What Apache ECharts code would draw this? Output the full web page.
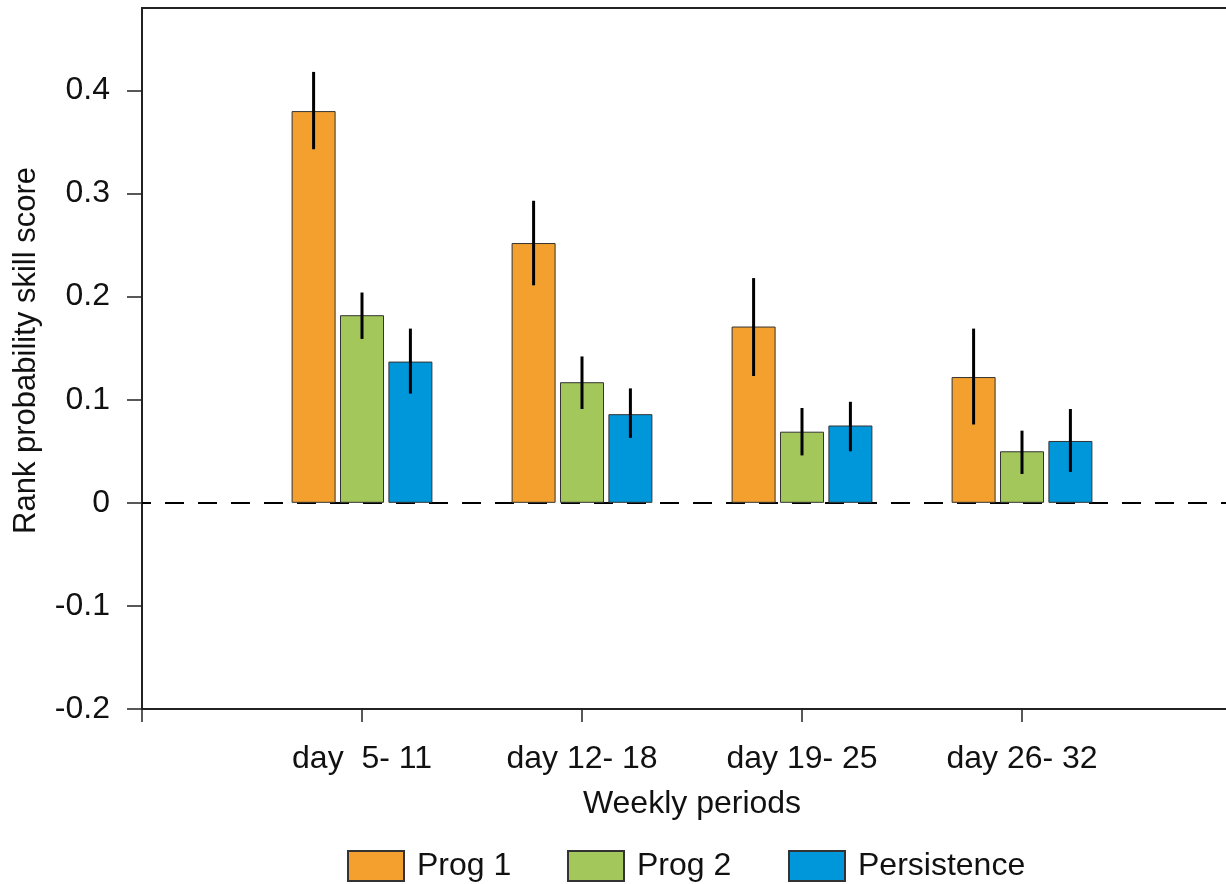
<!DOCTYPE html>
<html>
<head>
<meta charset="utf-8">
<script src="https://cdn.jsdelivr.net/npm/echarts@6/dist/echarts.min.js"></script>
<style>
html,body{margin:0;padding:0;background:#fff;}
#chart{width:1226px;height:884px;}
</style>
</head>
<body>
<div id="chart"></div>
<script>
// Categories (padded with empty slots at both ends of the axis)
var categories = ['', 'day  5- 11', 'day 12- 18', 'day 19- 25', 'day 26- 32', ''];
var seriesNames = ['Prog 1', 'Prog 2', 'Persistence'];
// Bar values
var prog1 = [null, 0.380, 0.252, 0.171, 0.122, null];
var prog2 = [null, 0.182, 0.117, 0.069, 0.050, null];
var persistence = [null, 0.137, 0.086, 0.075, 0.060, null];
// Error bar low / high
var prog1Low  = [0.343, 0.211, 0.123, 0.076];
var prog1High = [0.418, 0.293, 0.218, 0.169];
var prog2Low  = [0.159, 0.091, 0.046, 0.028];
var prog2High = [0.204, 0.142, 0.092, 0.070];
var persLow   = [0.106, 0.063, 0.050, 0.030];
var persHigh  = [0.169, 0.111, 0.098, 0.091];
// Y tick labels
var yTicks = [-0.2, -0.1, 0, 0.1, 0.2, 0.3, 0.4];

var colors = ['#F3A02E', '#A3C75A', '#0096DA'];
var FONT = 'Liberation Sans, Arial, Helvetica, sans-serif';
var BAR_W = 44, BAR_GAP = 4.4;

function errData(low, high) {
  return low.map(function (l, i) { return [i + 1, l, high[i]]; });
}
function errSeries(k, low, high) {
  var offset = (k - 1) * (BAR_W + BAR_GAP);
  return {
    type: 'custom',
    name: seriesNames[k] + ' err',
    z: 5,
    silent: true,
    data: errData(low, high),
    encode: { x: 0, y: [1, 2] },
    renderItem: function (params, api) {
      var p1 = api.coord([api.value(0), api.value(1)]);
      var p2 = api.coord([api.value(0), api.value(2)]);
      return {
        type: 'line',
        shape: { x1: p1[0] + offset, y1: p1[1], x2: p2[0] + offset, y2: p2[1] },
        style: { stroke: '#000', lineWidth: 3 }
      };
    }
  };
}

var barItem = function (c) { return { color: c, borderColor: '#333', borderWidth: 1 }; };

var legendBase = function (name, left) {
  return {
    data: [name], left: left, top: 845, orient: 'horizontal',
    itemWidth: 56, itemHeight: 30, icon: 'rect',
    textStyle: { fontFamily: FONT, fontSize: 32, color: '#111', padding: [0, 0, 0, 8] },
    selectedMode: false
  };
};

var option = {
  animation: false,
  backgroundColor: '#fff',
  textStyle: { fontFamily: FONT },
  grid: {
    left: 142, right: -16, top: 8, bottom: 175,
    outerBoundsMode: 'none',
    show: true, borderColor: '#222', borderWidth: 2, containLabel: false
  },
  legend: [
    legendBase('Prog 1', 342),
    legendBase('Prog 2', 562),
    legendBase('Persistence', 783)
  ],
  xAxis: {
    type: 'category',
    data: categories,
    boundaryGap: false,
    name: 'Weekly periods',
    nameLocation: 'middle',
    nameGap: 79,
    nameTextStyle: { fontFamily: FONT, fontSize: 32, color: '#111' },
    axisLine: { onZero: false, lineStyle: { color: '#222', width: 2 } },
    axisTick: { show: true, interval: 0, length: 13, lineStyle: { color: '#222', width: 1.5 } },
    axisLabel: { interval: 0, margin: 34, fontFamily: FONT, fontSize: 32, color: '#111' },
    splitLine: { show: false }
  },
  yAxis: {
    type: 'value',
    min: -0.2,
    max: 0.48,
    interval: 0.1,
    name: 'Rank probability skill score',
    nameLocation: 'middle',
    nameGap: 100,
    nameTextStyle: { fontFamily: FONT, fontSize: 31, color: '#111', padding: [0, 0, 0, 16] },
    axisLine: { show: true, onZero: false, lineStyle: { color: '#222', width: 2 } },
    axisTick: { show: true, length: 15, customValues: yTicks, lineStyle: { color: '#222', width: 1.5 } },
    axisLabel: {
      margin: 32, fontFamily: FONT, fontSize: 32, color: '#111', customValues: yTicks,
      formatter: function (v) { return Math.abs(v) < 1e-9 ? '0' : v.toFixed(1); }
    },
    splitLine: { show: false }
  },
  series: [
    {
      type: 'bar', name: 'Prog 1', data: prog1, barWidth: BAR_W, barGap: '10%',
      itemStyle: barItem(colors[0]),
      markLine: {
        silent: true, symbol: 'none', label: { show: false }, z: 1,
        lineStyle: { color: '#000', width: 2, type: [19, 14], dashOffset: 10 },
        data: [{ yAxis: 0 }]
      }
    },
    { type: 'bar', name: 'Prog 2', data: prog2, barWidth: BAR_W, barGap: '10%', itemStyle: barItem(colors[1]) },
    { type: 'bar', name: 'Persistence', data: persistence, barWidth: BAR_W, barGap: '10%', itemStyle: barItem(colors[2]) },
    errSeries(0, prog1Low, prog1High),
    errSeries(1, prog2Low, prog2High),
    errSeries(2, persLow, persHigh)
  ]
};

var chart = echarts.init(document.getElementById('chart'), null, { renderer: 'canvas' });
chart.setOption(option);
</script>
</body>
</html>
